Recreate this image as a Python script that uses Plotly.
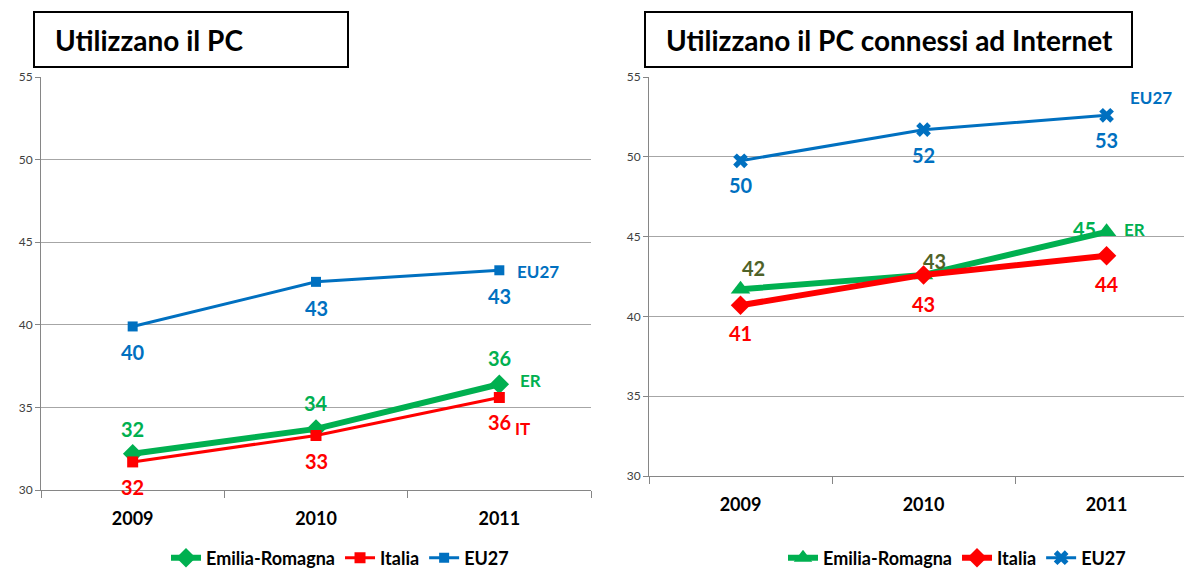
import plotly.graph_objects as go

# Years on the x axis
years = ["2009", "2010", "2011"]

# Left chart: people using a PC (%)
pc_er = [32.2, 33.7, 36.4]
pc_it = [31.7, 33.3, 35.6]
pc_eu = [39.9, 42.6, 43.3]

# Right chart: people using a PC connected to the Internet (%)
net_er = [41.7, 42.6, 45.3]
net_it = [40.7, 42.6, 43.8]
net_eu = [49.75, 51.7, 52.6]

GREEN = "#00B050"
OLIVE = "#4F6228"
RED = "#FF0000"
BLUE = "#0070C0"
FONT = "Lato"

W, H = 1184, 568


def px(x):
    return x / W


def py(y):
    return 1 - y / H


fig = go.Figure()

# ---- left chart traces ----
fig.add_trace(go.Scatter(x=years, y=pc_er, name="Emilia-Romagna", mode="lines+markers",
                         line=dict(color=GREEN, width=6),
                         marker=dict(symbol="diamond", size=15, color=GREEN),
                         xaxis="x", yaxis="y", legend="legend"))
fig.add_trace(go.Scatter(x=years, y=pc_it, name="Italia", mode="lines+markers",
                         line=dict(color=RED, width=3),
                         marker=dict(symbol="square", size=11, color=RED),
                         xaxis="x", yaxis="y", legend="legend"))
fig.add_trace(go.Scatter(x=years, y=pc_eu, name="EU27", mode="lines+markers",
                         line=dict(color=BLUE, width=3),
                         marker=dict(symbol="square", size=10, color=BLUE),
                         xaxis="x", yaxis="y", legend="legend"))

# ---- right chart traces ----
fig.add_trace(go.Scatter(x=years, y=net_er, name="Emilia-Romagna", mode="lines+markers",
                         line=dict(color=GREEN, width=6),
                         marker=dict(symbol="triangle-up", size=17, color=GREEN),
                         xaxis="x2", yaxis="y2", legend="legend2"))
fig.add_trace(go.Scatter(x=years, y=net_it, name="Italia", mode="lines+markers",
                         line=dict(color=RED, width=6),
                         marker=dict(symbol="diamond", size=15, color=RED),
                         xaxis="x2", yaxis="y2", legend="legend2"))
fig.add_trace(go.Scatter(x=years, y=net_eu, name="EU27", mode="lines+markers",
                         line=dict(color=BLUE, width=3),
                         marker=dict(symbol="x", size=13, color=BLUE),
                         xaxis="x2", yaxis="y2", legend="legend2"))

annotations = []


def value_labels(xa, ya, vals, colors, dys, dxs=None):
    # category axes take the category index as annotation position
    for i, v in enumerate(vals):
        annotations.append(dict(
            x=i, y=v, xref=xa, yref=ya, text=f"{round(v)}", showarrow=False,
            xshift=(dxs[i] if dxs else 0), yshift=dys[i],
            font=dict(family=FONT, size=20, color=colors[i], weight="bold")))


value_labels("x", "y", pc_eu, [BLUE] * 3, [-26, -26, -26])
value_labels("x", "y", pc_er, [GREEN] * 3, [25, 26, 26])
value_labels("x", "y", pc_it, [RED] * 3, [-25, -26, -25])

value_labels("x2", "y2", net_eu, [BLUE] * 3, [-24, -25, -25])
value_labels("x2", "y2", net_er, [OLIVE, OLIVE, GREEN], [21, 14, 3], [13, 11, -22])
value_labels("x2", "y2", net_it, [RED] * 3, [-28, -29, -28])

# Series tags at the end of each line
tags = [
    ("x", "y", 2.21, 43.2, "EU27", BLUE),
    ("x", "y", 2.17, 36.65, "ER", GREEN),
    ("x", "y", 2.125, 33.75, "IT", RED),
    ("x2", "y2", 2.24, 53.7, "EU27", BLUE),
    ("x2", "y2", 2.15, 45.45, "ER", GREEN),
]
for xa, ya, xv, yv, t, c in tags:
    annotations.append(dict(x=xv, y=yv, xref=xa, yref=ya, text=t, showarrow=False,
                            font=dict(family=FONT, size=17, color=c, weight="bold")))

# Panel titles inside framed boxes
titles = [(34, 348, "Utilizzano il PC"), (645, 1132, "Utilizzano il PC connessi ad Internet")]
shapes = []
for x0, x1, t in titles:
    shapes.append(dict(type="rect", xref="paper", yref="paper",
                       x0=px(x0), x1=px(x1), y0=py(67), y1=py(12),
                       line=dict(color="black", width=2), fillcolor="white"))
    annotations.append(dict(x=px(x0 + 19), y=py(40), xref="paper", yref="paper",
                            xanchor="left", yanchor="middle", text=t, showarrow=False,
                            font=dict(family=FONT, size=28, color="black", weight="bold")))

axis_common = dict(
    showline=True, linecolor="#868686", linewidth=1,
    ticks="outside", tickcolor="#868686", ticklen=5,
)

yaxis_common = dict(axis_common, range=[30, 55], dtick=5, tick0=30,
                    showgrid=True, gridcolor="#A6A6A6", gridwidth=1,
                    tickfont=dict(family=FONT, size=12, color="#404040"),
                    zeroline=False)

xaxis_common = dict(axis_common, type="category", tickson="boundaries", ticklen=7,
                    showgrid=False, ticklabelstandoff=12,
                    tickfont=dict(family=FONT, size=18, color="black", weight="bold"))

legend_font = dict(family=FONT, size=18, color="black", weight="bold")

fig.update_layout(
    width=W, height=H,
    margin=dict(l=0, r=0, t=0, b=0, autoexpand=False),
    paper_bgcolor="white", plot_bgcolor="white",
    xaxis=dict(xaxis_common, domain=[px(41), px(591)], range=[-0.5, 2.5], anchor="y"),
    yaxis=dict(yaxis_common, domain=[py(490), py(77)], anchor="x"),
    xaxis2=dict(xaxis_common, domain=[px(649), 1.0], range=[-0.5, 2.423], anchor="y2"),
    yaxis2=dict(yaxis_common, domain=[py(476), py(77)], anchor="x2"),
    legend=dict(orientation="h", x=px(340), xanchor="center", y=py(558), yanchor="middle",
                font=legend_font, bgcolor="rgba(0,0,0,0)", itemwidth=30, tracegroupgap=0),
    legend2=dict(orientation="h", x=px(957), xanchor="center", y=py(558), yanchor="middle",
                 font=legend_font, bgcolor="rgba(0,0,0,0)", itemwidth=30, tracegroupgap=0),
    shapes=shapes,
    annotations=annotations,
)

fig.write_html("out.html")
